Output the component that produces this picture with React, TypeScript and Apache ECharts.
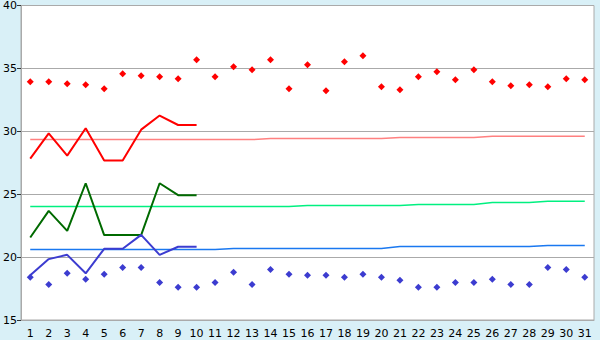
import React, { useEffect, useRef } from "react";
import * as echarts from "echarts";

const categories = Array.from({ length: 31 }, (_, i) => String(i + 1));

const redPoints = [33.94, 33.94, 33.78, 33.7, 33.39, 34.58, 34.42, 34.34, 34.18, 35.69, 34.34, 35.13, 34.9, 35.69, 33.39, 35.29, 33.23, 35.53, 36.01, 33.55, 33.31, 34.34, 34.74, 34.1, 34.9, 33.94, 33.63, 33.7, 33.55, 34.18, 34.1];
const bluePoints = [18.39, 17.83, 18.71, 18.23, 18.63, 19.18, 19.18, 17.99, 17.6, 17.6, 17.99, 18.79, 17.83, 19.02, 18.63, 18.55, 18.55, 18.39, 18.63, 18.39, 18.15, 17.6, 17.6, 17.99, 17.99, 18.23, 17.83, 17.83, 19.18, 19.02, 18.39];

const redLine = [27.83, 29.84, 28.07, 30.24, 27.67, 27.67, 30.13, 31.25, 30.5, 30.5];
const greenLine = [21.56, 23.67, 22.09, 25.87, 21.75, 21.75, 21.75, 25.87, 24.92, 24.92];
const blueLine = [18.55, 19.84, 20.18, 18.71, 20.66, 20.66, 21.77, 20.18, 20.82, 20.82];

const redTrend = [29.34, 29.34, 29.34, 29.34, 29.34, 29.34, 29.34, 29.34, 29.34, 29.34, 29.34, 29.34, 29.34, 29.42, 29.42, 29.42, 29.42, 29.42, 29.42, 29.42, 29.5, 29.5, 29.5, 29.5, 29.5, 29.6, 29.6, 29.6, 29.6, 29.6, 29.6];
const greenTrend = [24.02, 24.02, 24.02, 24.02, 24.02, 24.02, 24.02, 24.02, 24.02, 24.02, 24.02, 24.02, 24.02, 24.02, 24.02, 24.1, 24.1, 24.1, 24.1, 24.1, 24.1, 24.18, 24.18, 24.18, 24.18, 24.34, 24.34, 24.34, 24.44, 24.44, 24.44];
const blueTrend = [20.61, 20.61, 20.61, 20.61, 20.61, 20.61, 20.61, 20.61, 20.61, 20.61, 20.61, 20.69, 20.69, 20.69, 20.69, 20.69, 20.69, 20.69, 20.69, 20.69, 20.85, 20.85, 20.85, 20.85, 20.85, 20.85, 20.85, 20.85, 20.93, 20.93, 20.93];

const yMin = 15;
const yMax = 40;
const yInterval = 5;

const FONT = "DejaVu Sans";

export default function App() {
  const ref = useRef<HTMLDivElement>(null);
  useEffect(() => {
    if (!ref.current) return;
    const chart = echarts.init(ref.current, null, { renderer: "svg" });
    const lineSeries = (name: string, data: number[], color: string, width: number, z: number) => ({
      name,
      type: "line",
      data,
      symbol: "none",
      lineStyle: { color, width },
      z,
      silent: true,
    });
    const pointSeries = (name: string, data: number[], color: string) => ({
      name,
      type: "scatter",
      data,
      symbol: "diamond",
      symbolSize: [7, 7],
      itemStyle: { color, opacity: 1 },
      z: 5,
      silent: true,
    });
    chart.setOption({
      animation: false,
      backgroundColor: "#d9f0f7",
      grid: {
        left: 20,
        right: 6,
        top: 5,
        bottom: 20,
        show: true,
        backgroundColor: "#ffffff",
        borderColor: "#aaaaaa",
        borderWidth: 1,
      },
      xAxis: {
        type: "category",
        data: categories,
        boundaryGap: true,
        axisLine: { lineStyle: { color: "#aaaaaa" } },
        axisTick: { alignWithLabel: true, length: 5, lineStyle: { color: "#333333" } },
        axisLabel: { color: "#000000", fontSize: 11, fontFamily: FONT, margin: 8, interval: 0 },
        splitLine: { show: false },
      },
      yAxis: {
        type: "value",
        min: yMin,
        max: yMax,
        interval: yInterval,
        axisLine: { show: true, lineStyle: { color: "#aaaaaa" } },
        axisTick: { show: true, length: 4, lineStyle: { color: "#333333" } },
        axisLabel: { color: "#000000", fontSize: 11, fontFamily: FONT, margin: 4 },
        splitLine: { show: true, lineStyle: { color: "#aaaaaa", width: 1 } },
      },
      series: [
        lineSeries("redTrend", redTrend, "#ff8080", 1.5, 2),
        lineSeries("greenTrend", greenTrend, "#00f080", 1.5, 2),
        lineSeries("blueTrend", blueTrend, "#1a78f0", 1.5, 2),
        lineSeries("red", redLine, "#ff0000", 2, 3),
        lineSeries("green", greenLine, "#006a00", 2, 3),
        lineSeries("blue", blueLine, "#3c3cd0", 2, 3),
        pointSeries("redPts", redPoints, "#ff0000"),
        pointSeries("bluePts", bluePoints, "#3c3cd0"),
      ],
    });
    return () => chart.dispose();
  }, []);
  return (
    <div
      ref={ref}
      style={{ position: "fixed", left: 0, top: 0, width: 600, height: 340 }}
    />
  );
}
